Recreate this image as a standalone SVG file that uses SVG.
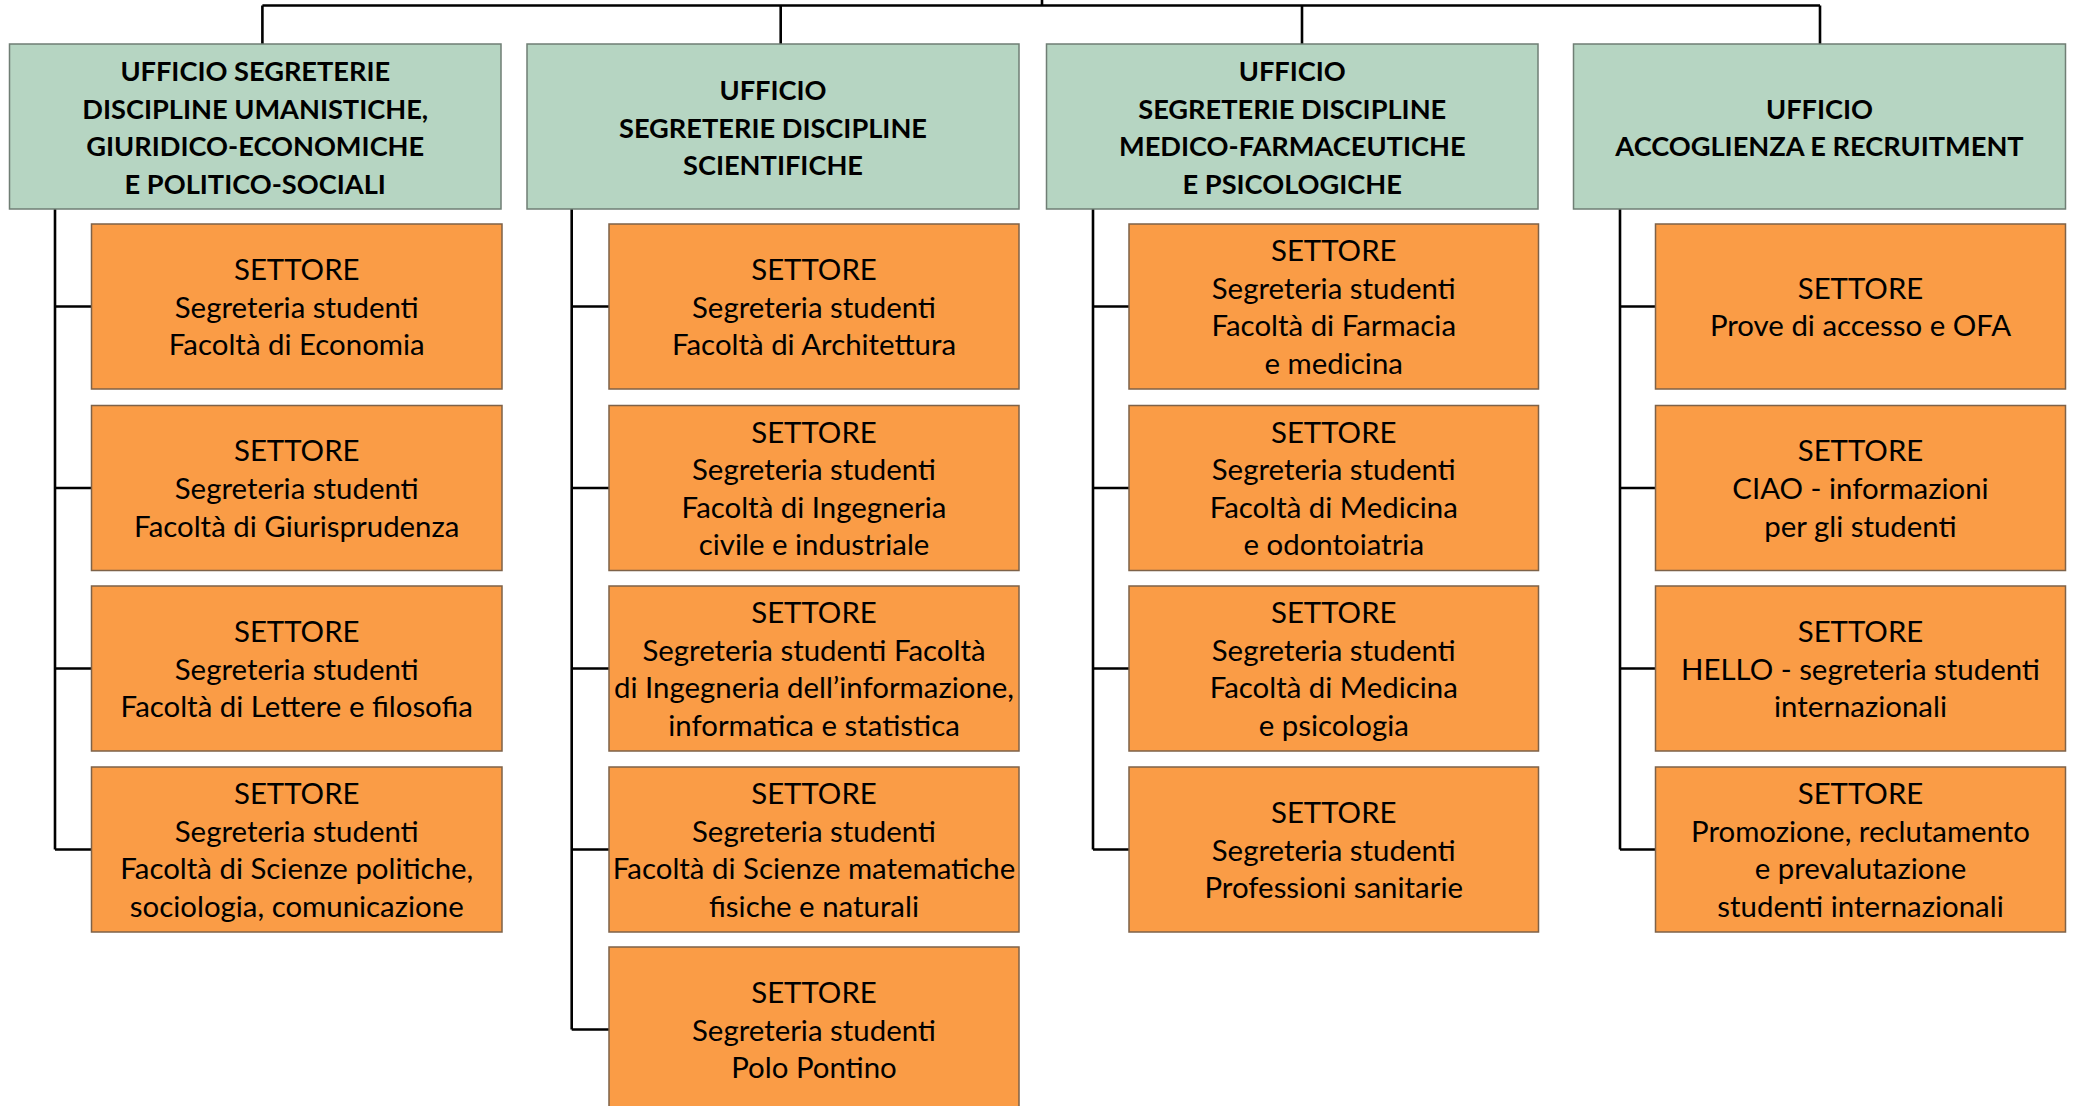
<svg xmlns="http://www.w3.org/2000/svg" width="2074" height="1106" viewBox="0 0 2074 1106">
<style>
.hdr{fill:#B6D5C2;stroke:#6F7E74;stroke-width:1.5}
.sec{fill:#FA9C46;stroke:#7E6248;stroke-width:1.5}
.ht{font-family:Lato,"Liberation Sans",sans-serif;font-weight:bold;font-size:27.2px;fill:#000;text-anchor:middle}
.st{font-family:Lato,"Liberation Sans",sans-serif;font-size:29.4px;fill:#000;text-anchor:middle}
.conn{fill:none;stroke:#000;stroke-width:2.6}
</style>
<rect width="2074" height="1106" fill="#fff"/>
<g id="connectors">
<path class="conn" d="M1042,0V5.5M262.4,5.5H1820M262.4,5.5V44M780.7,5.5V44M1302,5.5V44M1820,5.5V44"/>
<path class="conn" d="M55,209V849.5M55,306.5H91.5M55,488H91.5M55,668.5H91.5M55,849.5H91.5"/>
<path class="conn" d="M571.7,209V1029.5M571.7,306.5H609M571.7,488H609M571.7,668.5H609M571.7,849.5H609M571.7,1029.5H609"/>
<path class="conn" d="M1093,209V849.5M1093,306.5H1129M1093,488H1129M1093,668.5H1129M1093,849.5H1129"/>
<path class="conn" d="M1620,209V849.5M1620,306.5H1655.5M1620,488H1655.5M1620,668.5H1655.5M1620,849.5H1655.5"/>
</g>
<g id="h1"><rect class="hdr" x="9.5" y="44" width="491.5" height="165"/>
<text class="ht"><tspan x="255.25" y="81.1">UFFICIO SEGRETERIE</tspan><tspan x="255.25" y="118.7">DISCIPLINE UMANISTICHE,</tspan><tspan x="255.25" y="156.3">GIURIDICO-ECONOMICHE</tspan><tspan x="255.25" y="193.9">E POLITICO-SOCIALI</tspan></text></g>
<g id="h2"><rect class="hdr" x="527" y="44" width="492" height="165"/>
<text class="ht"><tspan x="773" y="99.9">UFFICIO</tspan><tspan x="773" y="137.5">SEGRETERIE DISCIPLINE</tspan><tspan x="773" y="175.1">SCIENTIFICHE</tspan></text></g>
<g id="h3"><rect class="hdr" x="1046.5" y="44" width="491.5" height="165"/>
<text class="ht"><tspan x="1292.25" y="81.1">UFFICIO</tspan><tspan x="1292.25" y="118.7">SEGRETERIE DISCIPLINE</tspan><tspan x="1292.25" y="156.3">MEDICO-FARMACEUTICHE</tspan><tspan x="1292.25" y="193.9">E PSICOLOGICHE</tspan></text></g>
<g id="h4"><rect class="hdr" x="1573.5" y="44" width="492" height="165"/>
<text class="ht"><tspan x="1819.5" y="118.7">UFFICIO</tspan><tspan x="1819.5" y="156.3">ACCOGLIENZA E RECRUITMENT</tspan></text></g>

<g id="c1r1"><rect class="sec" x="91.5" y="224" width="410.5" height="165"/>
<text class="st"><tspan x="296.75" y="279.9">SETTORE</tspan><tspan x="296.75" y="317.5">Segreteria studenti</tspan><tspan x="296.75" y="355.1">Facoltà di Economia</tspan></text></g>
<g id="c1r2"><rect class="sec" x="91.5" y="405.5" width="410.5" height="165"/>
<text class="st"><tspan x="296.75" y="461.4">SETTORE</tspan><tspan x="296.75" y="499">Segreteria studenti</tspan><tspan x="296.75" y="536.6">Facoltà di Giurisprudenza</tspan></text></g>
<g id="c1r3"><rect class="sec" x="91.5" y="586" width="410.5" height="165"/>
<text class="st"><tspan x="296.75" y="641.9">SETTORE</tspan><tspan x="296.75" y="679.5">Segreteria studenti</tspan><tspan x="296.75" y="717.1">Facoltà di Lettere e filosofia</tspan></text></g>
<g id="c1r4"><rect class="sec" x="91.5" y="767" width="410.5" height="165"/>
<text class="st"><tspan x="296.75" y="804.1">SETTORE</tspan><tspan x="296.75" y="841.7">Segreteria studenti</tspan><tspan x="296.75" y="879.3">Facoltà di Scienze politiche,</tspan><tspan x="296.75" y="916.9">sociologia, comunicazione</tspan></text></g>

<g id="c2r1"><rect class="sec" x="609" y="224" width="410" height="165"/>
<text class="st"><tspan x="814" y="279.9">SETTORE</tspan><tspan x="814" y="317.5">Segreteria studenti</tspan><tspan x="814" y="355.1">Facoltà di Architettura</tspan></text></g>
<g id="c2r2"><rect class="sec" x="609" y="405.5" width="410" height="165"/>
<text class="st"><tspan x="814" y="442.6">SETTORE</tspan><tspan x="814" y="480.2">Segreteria studenti</tspan><tspan x="814" y="517.8">Facoltà di Ingegneria</tspan><tspan x="814" y="555.4">civile e industriale</tspan></text></g>
<g id="c2r3"><rect class="sec" x="609" y="586" width="410" height="165"/>
<text class="st"><tspan x="814" y="623.1">SETTORE</tspan><tspan x="814" y="660.7">Segreteria studenti Facoltà</tspan><tspan x="814" y="698.3">di Ingegneria dell’informazione,</tspan><tspan x="814" y="735.9">informatica e statistica</tspan></text></g>
<g id="c2r4"><rect class="sec" x="609" y="767" width="410" height="165"/>
<text class="st"><tspan x="814" y="804.1">SETTORE</tspan><tspan x="814" y="841.7">Segreteria studenti</tspan><tspan x="814" y="879.3">Facoltà di Scienze matematiche</tspan><tspan x="814" y="916.9">fisiche e naturali</tspan></text></g>
<g id="c2r5"><rect class="sec" x="609" y="947" width="410" height="165"/>
<text class="st"><tspan x="814" y="1002.9">SETTORE</tspan><tspan x="814" y="1040.5">Segreteria studenti</tspan><tspan x="814" y="1078.1">Polo Pontino</tspan></text></g>

<g id="c3r1"><rect class="sec" x="1129" y="224" width="409.5" height="165"/>
<text class="st"><tspan x="1333.75" y="261.1">SETTORE</tspan><tspan x="1333.75" y="298.7">Segreteria studenti</tspan><tspan x="1333.75" y="336.3">Facoltà di Farmacia</tspan><tspan x="1333.75" y="373.9">e medicina</tspan></text></g>
<g id="c3r2"><rect class="sec" x="1129" y="405.5" width="409.5" height="165"/>
<text class="st"><tspan x="1333.75" y="442.6">SETTORE</tspan><tspan x="1333.75" y="480.2">Segreteria studenti</tspan><tspan x="1333.75" y="517.8">Facoltà di Medicina</tspan><tspan x="1333.75" y="555.4">e odontoiatria</tspan></text></g>
<g id="c3r3"><rect class="sec" x="1129" y="586" width="409.5" height="165"/>
<text class="st"><tspan x="1333.75" y="623.1">SETTORE</tspan><tspan x="1333.75" y="660.7">Segreteria studenti</tspan><tspan x="1333.75" y="698.3">Facoltà di Medicina</tspan><tspan x="1333.75" y="735.9">e psicologia</tspan></text></g>
<g id="c3r4"><rect class="sec" x="1129" y="767" width="409.5" height="165"/>
<text class="st"><tspan x="1333.75" y="822.9">SETTORE</tspan><tspan x="1333.75" y="860.5">Segreteria studenti</tspan><tspan x="1333.75" y="898.1">Professioni sanitarie</tspan></text></g>

<g id="c4r1"><rect class="sec" x="1655.5" y="224" width="410" height="165"/>
<text class="st"><tspan x="1860.5" y="298.7">SETTORE</tspan><tspan x="1860.5" y="336.3">Prove di accesso e OFA</tspan></text></g>
<g id="c4r2"><rect class="sec" x="1655.5" y="405.5" width="410" height="165"/>
<text class="st"><tspan x="1860.5" y="461.4">SETTORE</tspan><tspan x="1860.5" y="499">CIAO - informazioni</tspan><tspan x="1860.5" y="536.6">per gli studenti</tspan></text></g>
<g id="c4r3"><rect class="sec" x="1655.5" y="586" width="410" height="165"/>
<text class="st"><tspan x="1860.5" y="641.9">SETTORE</tspan><tspan x="1860.5" y="679.5">HELLO - segreteria studenti</tspan><tspan x="1860.5" y="717.1">internazionali</tspan></text></g>
<g id="c4r4"><rect class="sec" x="1655.5" y="767" width="410" height="165"/>
<text class="st"><tspan x="1860.5" y="804.1">SETTORE</tspan><tspan x="1860.5" y="841.7">Promozione, reclutamento</tspan><tspan x="1860.5" y="879.3">e prevalutazione</tspan><tspan x="1860.5" y="916.9">studenti internazionali</tspan></text></g>
</svg>
